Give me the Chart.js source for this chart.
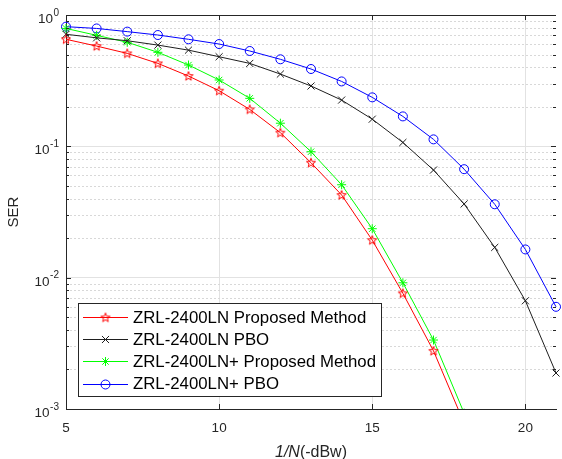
<!DOCTYPE html>
<html>
<head>
<meta charset="utf-8">
<script src="https://cdn.jsdelivr.net/npm/chart.js@4.4.1/dist/chart.umd.min.js"></script>
<style>
  html, body { margin: 0; padding: 0; background: #fff; }
</style>
</head>
<body>
<canvas id="serChart" width="562" height="459"></canvas>
<script>
// x positions 1/N (-dBw)
const xValues = [5, 6, 7, 8, 9, 10, 11, 12, 13, 14, 15, 16, 17, 18, 19, 20, 21];

// SER curves
const lnProposed = [0.653, 0.58, 0.51, 0.428, 0.343, 0.265, 0.191, 0.127, 0.075, 0.0426, 0.0193, 0.0076, 0.00277, 0.00078];
const lnPbo = [0.713, 0.67, 0.637, 0.59, 0.54, 0.481, 0.428, 0.355, 0.288, 0.225, 0.161, 0.107, 0.066, 0.0364, 0.017, 0.00667, 0.00188];
const lnPlusProposed = [0.79, 0.70, 0.62, 0.52, 0.416, 0.32, 0.232, 0.15, 0.091, 0.051, 0.0236, 0.00914, 0.00335, 0.00093];
const lnPlusPbo = [0.815, 0.79, 0.747, 0.704, 0.653, 0.601, 0.532, 0.46, 0.388, 0.312, 0.236, 0.169, 0.113, 0.067, 0.0362, 0.0164, 0.006];

const seriesNames = ['ZRL-2400LN Proposed Method', 'ZRL-2400LN PBO', 'ZRL-2400LN+ Proposed Method', 'ZRL-2400LN+ PBO'];

const xTicks = [5, 10, 15, 20];
const xTickLabels = ['5', '10', '15', '20'];
const yTicks = [0.001, 0.01, 0.1, 1];
const yTickExponents = ['-3', '-2', '-1', '0'];
const yMinorMultipliers = [2, 3, 4, 5, 6, 7, 8, 9];

const FONT = '"Liberation Sans", Arial, Helvetica, sans-serif';
const AXIS_COLOR = '#262626';

// pentagram marker (matlab 'p')
function makePentagram(color) {
  const c = document.createElement('canvas');
  c.width = 12; c.height = 12;
  const g = c.getContext('2d');
  const R = 4.8, r = 2.0, cx = 6, cy = 6.3;
  g.beginPath();
  for (let i = 0; i < 10; i++) {
    const rad = (i % 2 === 0) ? R : r;
    const a = -Math.PI / 2 + i * Math.PI / 5;
    const px = cx + rad * Math.cos(a), py = cy + rad * Math.sin(a);
    if (i === 0) g.moveTo(px, py); else g.lineTo(px, py);
  }
  g.closePath();
  g.strokeStyle = color;
  g.lineWidth = 1;
  g.stroke();
  return c;
}
const starImg = makePentagram('#ff0000');

function toPoints(arr) {
  return arr.map((v, i) => ({ x: xValues[i], y: v }));
}

const styles = [
  { color: '#ff0000', pointStyle: starImg, radius: 4 },
  { color: '#1e1e1e', pointStyle: 'crossRot', radius: 5 },
  { color: '#00ff00', pointStyle: 'star', radius: 4.5 },
  { color: '#0000ff', pointStyle: 'circle', radius: 4.5 }
];
const seriesData = [lnProposed, lnPbo, lnPlusProposed, lnPlusPbo];

const datasets = seriesData.map((arr, i) => ({
  label: seriesNames[i],
  data: toPoints(arr),
  borderColor: styles[i].color,
  backgroundColor: 'rgba(0,0,0,0)',
  pointBorderColor: styles[i].color,
  pointBackgroundColor: 'rgba(0,0,0,0)',
  pointStyle: styles[i].pointStyle,
  pointRadius: styles[i].radius,
  pointBorderWidth: 1,
  borderWidth: 1,
  tension: 0,
  clip: { left: 10, top: 10, right: 10, bottom: 0 }
}));

function drawMarker(ctx, st, x, y) {
  ctx.save();
  ctx.strokeStyle = st.color;
  ctx.lineWidth = 1;
  const r = st.radius;
  if (st.pointStyle === 'circle') {
    ctx.beginPath(); ctx.arc(x, y, r, 0, Math.PI * 2); ctx.stroke();
  } else if (st.pointStyle === 'crossRot') {
    const d = r * Math.SQRT1_2;
    ctx.beginPath();
    ctx.moveTo(x - d, y - d); ctx.lineTo(x + d, y + d);
    ctx.moveTo(x + d, y - d); ctx.lineTo(x - d, y + d);
    ctx.stroke();
  } else if (st.pointStyle === 'star') {
    const d = r * Math.SQRT1_2;
    ctx.beginPath();
    ctx.moveTo(x - r, y); ctx.lineTo(x + r, y);
    ctx.moveTo(x, y - r); ctx.lineTo(x, y + r);
    ctx.moveTo(x - d, y - d); ctx.lineTo(x + d, y + d);
    ctx.moveTo(x + d, y - d); ctx.lineTo(x - d, y + d);
    ctx.stroke();
  } else {
    ctx.drawImage(st.pointStyle, x - st.pointStyle.width / 2, y - st.pointStyle.height / 2);
  }
  ctx.restore();
}

const decor = {
  id: 'decor',
  beforeDatasetsDraw(chart) {
    const { ctx, chartArea: a, scales: { y } } = chart;
    ctx.save();
    ctx.strokeStyle = '#d8d8d8';
    ctx.lineWidth = 1;
    ctx.setLineDash([2, 2]);
    yTicks.slice(0, -1).forEach(dec => {
      yMinorMultipliers.forEach(m => {
        const py = Math.round(y.getPixelForValue(dec * m)) + 0.5;
        ctx.beginPath(); ctx.moveTo(a.left, py); ctx.lineTo(a.right, py); ctx.stroke();
      });
    });
    ctx.restore();
  },
  afterDatasetsDraw(chart) {
    const { ctx, chartArea: a, scales: { x, y } } = chart;
    ctx.save();
    ctx.strokeStyle = AXIS_COLOR;
    ctx.lineWidth = 1;
    // top box line
    ctx.beginPath(); ctx.moveTo(a.left, a.top + 0.5); ctx.lineTo(a.right, a.top + 0.5); ctx.stroke();
    // x ticks, inward
    xTicks.forEach(v => {
      const px = Math.round(x.getPixelForValue(v)) + 0.5;
      ctx.beginPath();
      ctx.moveTo(px, a.bottom); ctx.lineTo(px, a.bottom - 5);
      ctx.moveTo(px, a.top); ctx.lineTo(px, a.top + 5);
      ctx.stroke();
    });
    // y ticks, inward, major + minor
    yTicks.forEach(v => {
      const py = Math.round(y.getPixelForValue(v)) + 0.5;
      ctx.beginPath();
      ctx.moveTo(a.left, py); ctx.lineTo(a.left + 5, py);
      ctx.moveTo(a.right, py); ctx.lineTo(a.right - 5, py);
      ctx.stroke();
    });
    yTicks.slice(0, -1).forEach(dec => {
      yMinorMultipliers.forEach(m => {
        const py = Math.round(y.getPixelForValue(dec * m)) + 0.5;
        ctx.beginPath();
        ctx.moveTo(a.left, py); ctx.lineTo(a.left + 3, py);
        ctx.moveTo(a.right, py); ctx.lineTo(a.right - 3, py);
        ctx.stroke();
      });
    });
    ctx.restore();
  },
  afterDraw(chart) {
    const { ctx, chartArea: a, scales: { x, y } } = chart;
    ctx.save();
    ctx.fillStyle = AXIS_COLOR;
    // x tick labels
    ctx.font = '13.5px ' + FONT;
    ctx.textAlign = 'center';
    ctx.textBaseline = 'alphabetic';
    xTicks.forEach((v, i) => {
      ctx.fillText(xTickLabels[i], x.getPixelForValue(v), a.bottom + 23);
    });
    // y tick labels 10^k
    ctx.textAlign = 'right';
    yTicks.forEach((v, i) => {
      const py = y.getPixelForValue(v);
      ctx.font = '10px ' + FONT;
      const ew = ctx.measureText(yTickExponents[i]).width;
      ctx.fillText(yTickExponents[i], 59, py + 0.5);
      ctx.font = '13.5px ' + FONT;
      ctx.fillText('10', 59 - ew - 0.5, py + 8);
    });
    // x title: italic 1/N + (-dBw)
    ctx.textAlign = 'left';
    ctx.font = 'italic 16px ' + FONT;
    const t1 = '1/N';
    const w1 = ctx.measureText(t1).width;
    ctx.font = '16px ' + FONT;
    const t2 = '(-dBw)';
    const w2 = ctx.measureText(t2).width;
    const sx = (a.left + a.right) / 2 - (w1 + w2) / 2;
    ctx.font = 'italic 16px ' + FONT;
    ctx.fillText(t1, sx, 457);
    ctx.font = '16px ' + FONT;
    ctx.fillText(t2, sx + w1, 457);
    // y title
    ctx.save();
    ctx.translate(18, (a.top + a.bottom) / 2);
    ctx.rotate(-Math.PI / 2);
    ctx.textAlign = 'center';
    ctx.font = '15px ' + FONT;
    ctx.fillText('SER', 0, 0);
    ctx.restore();

    // legend box
    const lx = 78, ly = 303, lw = 303, lh = 93;
    ctx.fillStyle = '#ffffff';
    ctx.fillRect(lx, ly, lw, lh);
    ctx.strokeStyle = '#262626';
    ctx.lineWidth = 1;
    ctx.strokeRect(lx + 0.5, ly + 0.5, lw, lh);
    ctx.font = '16.8px ' + FONT;
    ctx.textBaseline = 'middle';
    ctx.textAlign = 'left';
    seriesNames.forEach((name, i) => {
      const ry = ly + 14 + i * 22.2;
      const st = styles[i];
      ctx.strokeStyle = st.color;
      ctx.beginPath(); ctx.moveTo(83, Math.round(ry) + 0.5); ctx.lineTo(128, Math.round(ry) + 0.5); ctx.stroke();
      drawMarker(ctx, st, 105.5, Math.round(ry) + 0.5);
      ctx.fillStyle = '#000000';
      ctx.fillText(name, 133, ry + 1);
    });
    ctx.restore();
  }
};

new Chart(document.getElementById('serChart').getContext('2d'), {
  type: 'line',
  data: { datasets: datasets },
  options: {
    responsive: false,
    animation: false,
    devicePixelRatio: 1,
    layout: { padding: { top: 15, right: 0, bottom: 0, left: 0 } },
    plugins: { legend: { display: false }, tooltip: { enabled: false } },
    scales: {
      x: {
        type: 'linear',
        min: 5,
        max: 21,
        afterBuildTicks: s => { s.ticks = xTicks.map(v => ({ value: v })); },
        afterFit: s => { s.height = 50; },
        ticks: { display: false },
        grid: { color: '#e2e2e2', lineWidth: 1, drawTicks: false },
        border: { display: true, color: AXIS_COLOR, width: 1 }
      },
      y: {
        type: 'logarithmic',
        min: 0.001,
        max: 1,
        afterBuildTicks: s => { s.ticks = yTicks.map(v => ({ value: v })); },
        afterFit: s => { s.width = 66; },
        ticks: { display: false },
        grid: { color: '#e2e2e2', lineWidth: 1, drawTicks: false },
        border: { display: true, color: AXIS_COLOR, width: 1 }
      }
    }
  },
  plugins: [decor]
});
</script>
</body>
</html>
